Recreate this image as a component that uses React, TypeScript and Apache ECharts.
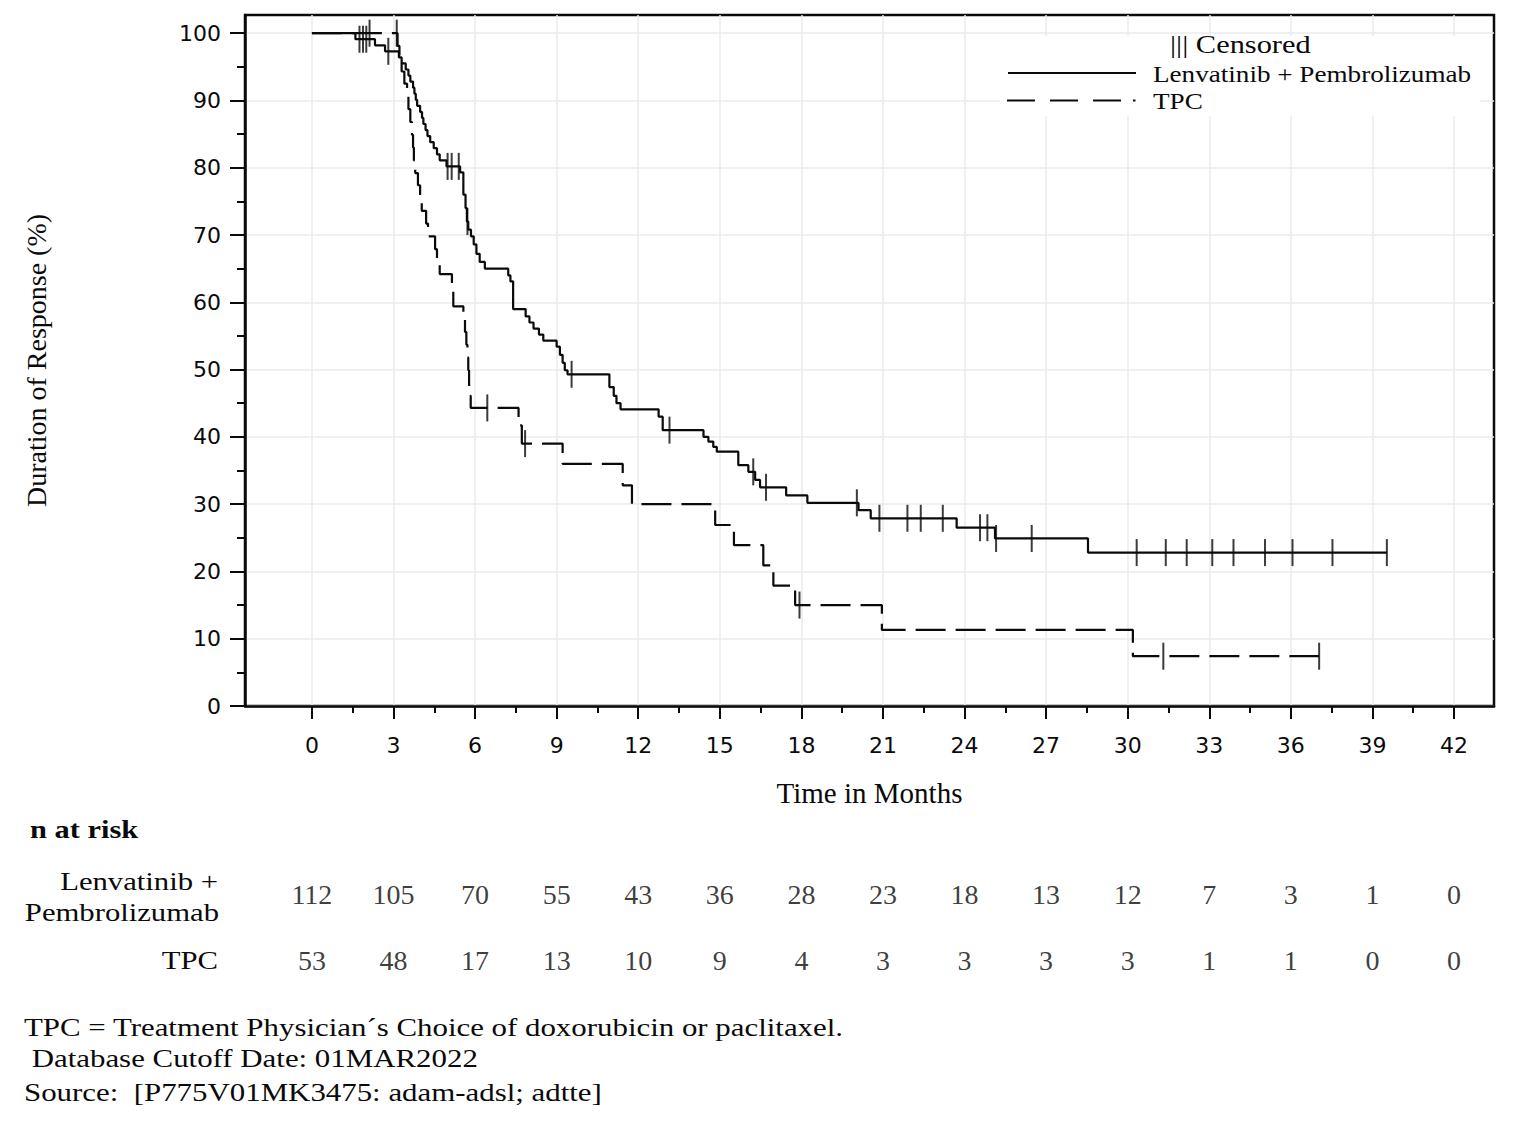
import React, { useEffect, useRef } from 'react';
import * as echarts from 'echarts';

// ---- axis ticks ----
const majorX = [0, 3, 6, 9, 12, 15, 18, 21, 24, 27, 30, 33, 36, 39, 42];
const minorX = [1.5, 4.5, 7.5, 10.5, 13.5, 16.5, 19.5, 22.5, 25.5, 28.5, 31.5, 34.5, 37.5, 40.5];
const majorY = [0, 10, 20, 30, 40, 50, 60, 70, 80, 90, 100];
const minorY = [5, 15, 25, 35, 45, 55, 65, 75, 85, 95];

// ---- Kaplan-Meier curves: [month, % still responding] ----
const lenvCurve: [number, number][] = [
  [0, 100], [1.6, 99.1], [2.32, 98.2], [2.69, 97.3], [3.2, 96.4], [3.3, 95.5], [3.45, 94.6],
  [3.55, 93.7], [3.62, 92.8], [3.72, 91.9], [3.77, 91.0], [3.82, 90.1], [3.87, 89.2], [3.98, 88.3],
  [4.05, 87.4], [4.1, 86.5], [4.18, 85.6], [4.25, 84.7], [4.35, 83.8], [4.48, 82.9], [4.6, 82.0],
  [4.7, 81.1], [4.95, 80.2], [5.45, 79.3], [5.57, 76.0], [5.65, 74.0], [5.7, 72.0], [5.75, 70.8],
  [5.85, 69.8], [5.95, 68.6], [6.05, 67.2], [6.17, 66.0], [6.36, 65.0], [7.22, 64.0], [7.3, 63.1],
  [7.4, 59.0], [7.86, 57.9], [8.0, 57.0], [8.15, 56.1], [8.35, 55.2], [8.51, 54.3], [9.0, 53.4],
  [9.12, 52.2], [9.22, 51.0], [9.3, 49.9], [9.4, 49.3], [10.94, 47.4], [11.1, 46.1], [11.2, 45.0],
  [11.35, 44.1], [12.75, 43.0], [12.9, 41.0], [14.4, 40.0], [14.58, 39.3], [14.76, 38.5],
  [14.89, 37.8], [15.68, 35.8], [16.05, 34.8], [16.3, 33.6], [16.48, 32.5], [17.44, 31.3],
  [18.22, 30.2], [20.1, 29.1], [20.55, 27.9], [23.71, 26.5], [25.12, 24.9], [28.54, 22.8],
  [39.53, 22.8],
];
const tpcCurve: [number, number][] = [
  [0, 100], [3.15, 98.1], [3.22, 96.2], [3.3, 94.3], [3.4, 92.5], [3.5, 90.6], [3.55, 88.7],
  [3.62, 86.8], [3.68, 84.9], [3.72, 83.0], [3.75, 81.1], [3.8, 79.2], [3.9, 77.4], [3.98, 75.5],
  [4.04, 73.6], [4.2, 71.7], [4.27, 69.8], [4.53, 67.9], [4.6, 66.0], [4.7, 64.2], [5.15, 62.3],
  [5.2, 59.4], [5.57, 57.5], [5.63, 55.6], [5.68, 53.7], [5.72, 51.8], [5.75, 49.9], [5.78, 48.0],
  [5.8, 46.1], [5.84, 44.3], [7.6, 41.7], [7.72, 39.0], [9.22, 36.0], [11.43, 32.8], [11.77, 30.0],
  [14.83, 26.9], [15.52, 23.9], [16.6, 20.9], [16.97, 17.9], [17.77, 15.0], [20.96, 11.3],
  [30.19, 7.4], [37.04, 7.4],
];
const lenvCensored: [number, number][] = [
  [1.75, 99.1], [1.88, 99.1], [2.0, 99.1], [2.81, 97.3], [4.99, 80.2], [5.14, 80.2], [5.4, 80.2],
  [5.72, 72.0], [9.55, 49.3], [13.15, 41.0], [16.23, 34.8], [16.7, 32.5], [20.04, 30.2],
  [20.87, 27.9], [21.9, 27.9], [22.39, 27.9], [23.2, 27.9], [24.57, 26.5], [24.84, 26.5],
  [25.16, 24.9], [26.47, 24.9], [30.33, 22.8], [31.4, 22.8], [32.17, 22.8], [33.11, 22.8],
  [33.89, 22.8], [35.05, 22.8], [36.06, 22.8], [37.53, 22.8], [39.53, 22.8],
];
const tpcCensored: [number, number][] = [
  [2.12, 100], [3.12, 100], [6.45, 44.3], [7.84, 39.0], [17.93, 15.0], [31.31, 7.4], [37.04, 7.4],
];

// ---- number at risk ----
const riskTimes = [0, 3, 6, 9, 12, 15, 18, 21, 24, 27, 30, 33, 36, 39, 42];
const riskLenv = [112, 105, 70, 55, 43, 36, 28, 23, 18, 13, 12, 7, 3, 1, 0];
const riskTPC = [53, 48, 17, 13, 10, 9, 4, 3, 3, 3, 3, 1, 1, 0, 0];

const footnotes = [
  'TPC = Treatment Physician\u00b4s Choice of doxorubicin or paclitaxel.',
  ' Database Cutoff Date: 01MAR2022',
  'Source:  [P775V01MK3475: adam-adsl; adtte]',
];

const SERIF = "'Liberation Serif', 'Times New Roman', serif";
const SANS = "'DejaVu Sans', sans-serif";
const INK = '#0a0a0a';
const X_MIN = -2.46;
const X_MAX = 43.47;
const STRETCH = 1.18;

function txt(x: number, y: number, text: string, size: number, align: string, opts: any = {}) {
  return {
    type: 'text',
    x,
    y,
    scaleX: opts.scaleX ?? STRETCH,
    z: 10,
    silent: true,
    style: {
      text,
      fill: INK,
      fontSize: size,
      fontFamily: SERIF,
      fontWeight: opts.bold ? 'bold' : 'normal',
      align,
      verticalAlign: 'middle',
      textAlign: align,
      textVerticalAlign: 'middle',
    },
  };
}

export default function App() {
  const ref = useRef<HTMLDivElement>(null);

  useEffect(() => {
    document.body.style.margin = '0';
    document.body.style.overflow = 'hidden';
    if (!ref.current) return;
    const chart = echarts.init(ref.current, undefined, { renderer: 'svg' });

    const riskLabel = {
      show: true, position: 'inside', formatter: (p: any) => String(p.value[2]),
      fontSize: 28, fontFamily: SERIF, color: INK,
    };

    const option: any = {
      animation: false,
      backgroundColor: '#fff',
      grid: [
        {
          left: 245, top: 15, width: 1249, height: 691,
          show: true, borderColor: INK, borderWidth: 2.5, backgroundColor: 'transparent',
        },
        { left: 245, top: 861, width: 1249, height: 132, show: false },
      ],
      xAxis: [
        {
          type: 'value', gridIndex: 0, min: X_MIN, max: X_MAX, position: 'bottom',
          axisLine: { show: true, onZero: false, lineStyle: { color: INK, width: 2.5 } },
          axisTick: { show: true, customValues: majorX, length: 13, lineStyle: { color: INK, width: 2 } },
          axisLabel: { show: true, customValues: majorX, margin: 28, fontSize: 22, fontFamily: SANS, color: INK },
          splitLine: { show: true, lineStyle: { color: '#ebebeb', width: 1.5 } },
          name: 'Time in Months', nameLocation: 'middle', nameGap: 72,
          nameTextStyle: { fontSize: 29, fontFamily: SERIF, color: INK },
        },
        {
          type: 'value', gridIndex: 0, min: X_MIN, max: X_MAX, position: 'bottom',
          axisLine: { show: false, onZero: false },
          axisTick: { show: true, customValues: minorX, length: 7, lineStyle: { color: INK, width: 2 } },
          axisLabel: { show: false },
          splitLine: { show: false },
        },
        {
          type: 'value', gridIndex: 1, min: X_MIN, max: X_MAX, show: false,
          axisLine: { onZero: false },
          splitLine: { show: false },
        },
      ],
      yAxis: [
        {
          type: 'value', gridIndex: 0, min: 0, max: 102.7, position: 'left',
          axisLine: { show: true, onZero: false, lineStyle: { color: INK, width: 2.5 } },
          axisTick: { show: true, customValues: majorY, length: 15, lineStyle: { color: INK, width: 2 } },
          axisLabel: { show: true, customValues: majorY, margin: 24, fontSize: 22, fontFamily: SANS, color: INK },
          splitLine: { show: true, lineStyle: { color: '#ebebeb', width: 1.5 } },
          name: 'Duration of Response (%)', nameLocation: 'middle', nameGap: 195,
          nameTextStyle: { fontSize: 28, fontFamily: SERIF, color: INK },
        },
        {
          type: 'value', gridIndex: 0, min: 0, max: 102.7, position: 'left',
          axisLine: { show: false, onZero: false },
          axisTick: { show: true, customValues: minorY, length: 8, lineStyle: { color: INK, width: 2 } },
          axisLabel: { show: false },
          splitLine: { show: false },
        },
        {
          type: 'value', gridIndex: 1, min: 0, max: 2, inverse: true, show: false,
          axisLine: { onZero: false },
          splitLine: { show: false },
        },
      ],
      series: [
        {
          name: 'Lenvatinib + Pembrolizumab', type: 'line', step: 'end',
          xAxisIndex: 0, yAxisIndex: 0, data: lenvCurve, showSymbol: false, symbol: 'none',
          lineStyle: { color: INK, width: 2.2 }, z: 3,
        },
        {
          name: 'TPC', type: 'line', step: 'end',
          xAxisIndex: 0, yAxisIndex: 0, data: tpcCurve, showSymbol: false, symbol: 'none',
          lineStyle: { color: INK, width: 2.2, type: [30, 10] }, z: 3,
        },
        {
          name: 'Lenvatinib censored', type: 'scatter', xAxisIndex: 0, yAxisIndex: 0,
          data: lenvCensored, symbol: 'rect', symbolSize: [2, 27], itemStyle: { color: INK }, z: 4,
        },
        {
          name: 'TPC censored', type: 'scatter', xAxisIndex: 0, yAxisIndex: 0,
          data: tpcCensored, symbol: 'rect', symbolSize: [2, 27], itemStyle: { color: INK }, z: 4,
        },
        {
          name: 'At risk Lenvatinib', type: 'scatter', xAxisIndex: 2, yAxisIndex: 2,
          data: riskTimes.map((t, i) => [t, 0.5, riskLenv[i]]),
          symbolSize: 1, itemStyle: { color: 'transparent' }, label: riskLabel,
        },
        {
          name: 'At risk TPC', type: 'scatter', xAxisIndex: 2, yAxisIndex: 2,
          data: riskTimes.map((t, i) => [t, 1.5, riskTPC[i]]),
          symbolSize: 1, itemStyle: { color: 'transparent' }, label: riskLabel,
        },
      ],
      graphic: [
        { type: 'rect', z: 1, silent: true, shape: { x: 1000, y: 36, width: 480, height: 80 }, style: { fill: '#fff' } },
        txt(1170, 44, '||| Censored', 26, 'left', { scaleX: 1.17 }),
        { type: 'line', z: 10, silent: true, shape: { x1: 1008, y1: 73, x2: 1136, y2: 73 }, style: { stroke: INK, lineWidth: 2 } },
        txt(1153, 74, 'Lenvatinib + Pembrolizumab', 23, 'left'),
        { type: 'line', z: 10, silent: true, shape: { x1: 1007, y1: 100.5, x2: 1121, y2: 100.5 }, style: { stroke: INK, lineWidth: 2, lineDash: [28, 15] } },
        { type: 'line', z: 10, silent: true, shape: { x1: 1133, y1: 100.5, x2: 1135.5, y2: 100.5 }, style: { stroke: INK, lineWidth: 2 } },
        txt(1153, 101, 'TPC', 23, 'left'),
        txt(30, 829, 'n at risk', 26, 'left', { bold: true, scaleX: 1.17 }),
        txt(218, 881, 'Lenvatinib +', 26, 'right'),
        txt(219, 912, 'Pembrolizumab', 26, 'right'),
        txt(218, 960, 'TPC', 26, 'right'),
        txt(24, 1027, footnotes[0], 26, 'left', { scaleX: 1.188 }),
        txt(24, 1058, footnotes[1], 26, 'left', { scaleX: 1.188 }),
        txt(24, 1092, footnotes[2], 26, 'left', { scaleX: 1.188 }),
      ],
    };

    chart.setOption(option);
    return () => chart.dispose();
  }, []);

  return <div ref={ref} style={{ width: 1530, height: 1131, background: '#fff' }} />;
}
